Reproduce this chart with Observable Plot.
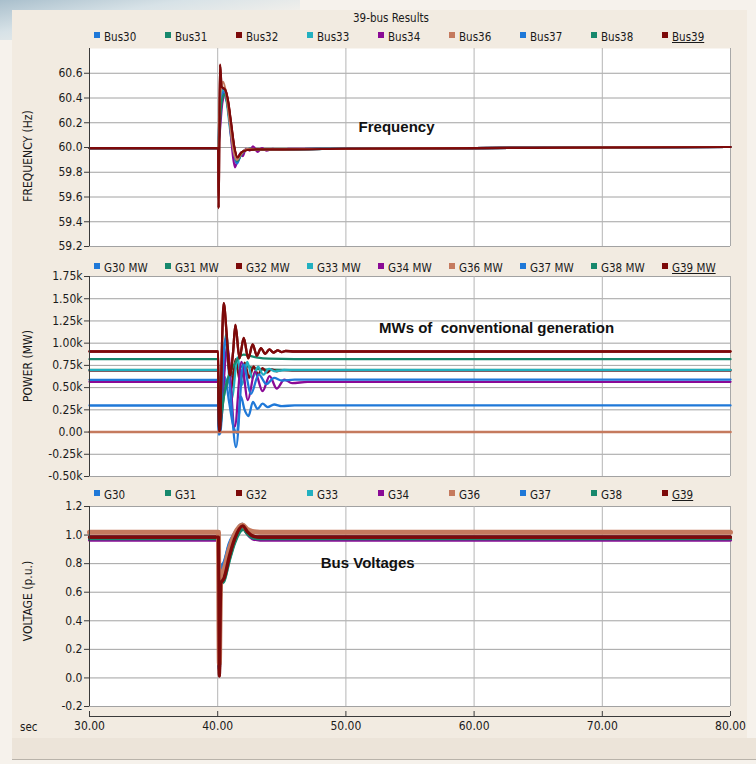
<!DOCTYPE html>
<html><head><meta charset="utf-8">
<script src="https://cdn.jsdelivr.net/npm/d3@7"></script>
<script src="https://cdn.jsdelivr.net/npm/@observablehq/plot@0.6"></script>
<style>
body{margin:0;width:756px;height:764px;overflow:hidden;background:#f6f2ec;font-family:"DejaVu Sans Condensed","DejaVu Sans",sans-serif;}
#root{position:relative;width:756px;height:764px;}
#swoosh{position:absolute;left:0;top:0;width:300px;height:40px;background:linear-gradient(170deg,#a9bfcc 0%,#d7e2e7 35%,rgba(246,242,236,0) 75%);}
#card{position:absolute;left:12px;top:10px;width:735px;height:750px;background:#f2ebe1;}
#foot{position:absolute;left:12px;top:738px;width:744px;height:21px;background:#ece4d9;border-bottom:1px solid #b9b3aa;}
.abs{position:absolute;}
.legend{position:absolute;left:0;width:756px;height:14px;font-size:11.5px;color:#1a1a1a;}
.item{position:absolute;top:0;white-space:nowrap;line-height:14px;}
.sw{display:inline-block;width:6px;height:6px;margin-right:4px;vertical-align:3px;}
.ylab{position:absolute;font-size:12px;color:#1a1a1a;white-space:nowrap;transform:translate(-50%,-50%) rotate(-90deg);}
</style></head><body><div id="root">
<div id="swoosh"></div><div id="card"></div><div id="foot"></div>
</div>
<script>
// ---------- labels / ticks ----------
const chartTitle = "39-bus Results";
const busNames = ["Bus30","Bus31","Bus32","Bus33","Bus34","Bus36","Bus37","Bus38","Bus39"];
const genMwNames = ["G30 MW","G31 MW","G32 MW","G33 MW","G34 MW","G36 MW","G37 MW","G38 MW","G39 MW"];
const genNames = ["G30","G31","G32","G33","G34","G36","G37","G38","G39"];
const seriesColors = ["#1f78d8","#17886c","#7d0a0a","#22b0c0","#8a0a96","#c57a5e","#1f78d8","#17886c","#7d0a0a"];
const timeTicks = [30,40,50,60,70,80];
const freqTicks = [59.2,59.4,59.6,59.8,60.0,60.2,60.4,60.6];
const powerTicks = [-500,-250,0,250,500,750,1000,1250,1500,1750];
const voltTicks = [-0.2,0,0.2,0.4,0.6,0.8,1.0,1.2];
const freqNote = [{t:53.95, v:60.165, text:"Frequency"}];
const powerNote = [{t:61.75, v:1165, text:"MWs of\u00a0 conventional generation"}];
const voltNote = [{t:51.7, v:0.806, text:"Bus Voltages"}];

// ---------- frequency (Hz) ----------
const fBus30 = [[30,59.995],[40.04,59.995],[40.12,60.2],[40.28,60.42],[40.47,60.48],[40.72,60.38],[41.0,60.14],[41.25,59.96],[41.48,59.88],[41.75,59.93],[42.05,59.975],[42.5,59.99],[43.0,59.982],[45,59.985],[50,59.99],[60,59.995],[70,60.0],[80,60.004]];
const fBus31 = [[30,59.995],[40.04,59.995],[40.14,60.16],[40.3,60.38],[40.52,60.44],[40.75,60.36],[41.02,60.14],[41.27,59.97],[41.5,59.89],[41.77,59.935],[42.08,59.975],[42.5,59.99],[43.0,59.983],[45,59.985],[50,59.99],[60,59.995],[70,60.0],[80,60.004]];
const fBus32 = [[30,59.995],[40.04,59.995],[40.14,60.18],[40.32,60.4],[40.55,60.47],[40.8,60.37],[41.05,60.17],[41.3,59.99],[41.55,59.91],[41.82,59.95],[42.15,59.98],[42.6,59.99],[43.0,59.984],[45,59.985],[50,59.99],[60,59.995],[70,60.0],[80,60.004]];
const fBus33 = [[30,59.995],[40.04,59.995],[40.12,60.22],[40.27,60.42],[40.45,60.46],[40.7,60.37],[40.98,60.13],[41.22,59.96],[41.45,59.88],[41.72,59.93],[42.02,59.97],[42.45,59.99],[43.0,59.982],[45,59.985],[50,59.99],[60,59.995],[70,60.0],[80,60.004]];
const fBus34 = [[30,59.995],[40.04,59.995],[40.16,60.12],[40.36,60.36],[40.62,60.44],[40.85,60.3],[41.05,60.08],[41.2,59.92],[41.35,59.84],[41.55,59.9],[41.75,59.95],[41.95,59.93],[42.2,59.99],[42.5,59.975],[42.75,60.01],[43.1,59.965],[43.45,59.995],[43.8,59.975],[44.3,59.99],[44.9,59.982],[45.5,59.99],[50,59.99],[60,59.995],[70,60.0],[80,60.004]];
const fBus36 = [[30,59.995],[40.04,59.995],[40.12,60.28],[40.26,60.48],[40.42,60.53],[40.68,60.42],[40.98,60.17],[41.24,59.97],[41.5,59.9],[41.78,59.94],[42.1,59.98],[42.5,59.99],[43.0,59.984],[45,59.985],[50,59.99],[60,59.995],[70,60.0],[80,60.004]];
const fBus37 = [[30,59.995],[40.04,59.995],[40.12,60.19],[40.29,60.41],[40.5,60.45],[40.74,60.37],[41.02,60.14],[41.27,59.96],[41.5,59.87],[41.77,59.93],[42.08,59.975],[42.5,59.99],[43.0,59.982],[45,59.985],[50,59.99],[60,59.995],[70,60.0],[80,60.004]];
const fBus38 = [[30,59.995],[40.04,59.995],[40.14,60.15],[40.31,60.37],[40.52,60.43],[40.76,60.35],[41.03,60.14],[41.28,59.97],[41.52,59.89],[41.8,59.94],[42.1,59.975],[42.5,59.99],[43.0,59.983],[45,59.985],[50,59.99],[60,59.995],[70,60.0],[80,60.004]];
const fBus39 = [[30,59.995],[40.04,59.995],[40.07,59.51],[40.12,59.98],[40.18,60.67],[40.31,60.49],[40.57,60.47],[40.8,60.38],[41.04,60.2],[41.3,60.0],[41.56,59.92],[41.85,59.96],[42.3,59.98],[43,59.985],[45,59.985],[50,59.99],[60,59.995],[70,60.0],[80,60.004]];

// ---------- power (MW) ----------
const pG30 = [[30,299],[40.04,299],[40.08,-30],[40.2,-10],[40.55,620],[40.9,330],[41.2,80],[41.5,-10],[41.8,400],[42.1,250],[42.4,180],[42.75,340],[43.1,260],[43.5,320],[43.9,280],[44.4,310],[45,292],[46,300],[80,300]];
const pG31 = [[30,700],[40.04,700],[40.08,10],[40.2,60],[40.5,420],[41.0,620],[41.6,730],[42.2,740],[43,712],[44,702],[46,700],[80,700]];
const pG32 = [[30,690],[40.04,690],[40.08,5],[40.2,100],[40.5,700],[40.75,900],[41.05,480],[41.4,820],[41.75,560],[42.1,780],[42.45,610],[42.8,740],[43.15,650],[43.5,720],[43.85,670],[44.2,705],[44.6,683],[45.0,697],[46,690],[80,690]];
const pG33 = [[30,696],[40.04,696],[40.08,0],[40.2,120],[40.65,1100],[41.1,380],[41.55,840],[41.9,530],[42.3,790],[42.7,606],[43.15,737],[43.55,645],[44.0,711],[44.5,682],[45.2,698],[46,696],[80,696]];
const pG34 = [[30,565],[40.04,565],[40.08,0],[40.25,150],[40.75,960],[41.33,60],[41.85,790],[42.35,360],[42.9,680],[43.5,460],[44.05,630],[44.6,490],[45.2,590],[45.8,550],[47,565],[80,565]];
const pG36 = [[30,0],[80,0]];
const pG37 = [[30,588],[40.04,588],[40.08,-20],[40.2,100],[40.6,1050],[41.0,420],[41.43,-170],[42.0,760],[42.6,430],[43.2,650],[43.8,540],[44.4,610],[45,580],[46,590],[80,590]];
const pG38 = [[30,820],[40.04,820],[40.08,0],[40.2,120],[40.6,500],[41.3,760],[42.0,870],[43,840],[44,825],[46,820],[80,820]];
const pG39 = [[30,906],[40.04,906],[40.08,10],[40.18,20],[40.32,900],[40.47,1449],[40.7,1100],[40.95,640],[41.2,900],[41.38,1205],[41.7,830],[42.03,1060],[42.38,830],[42.73,985],[43.05,860],[43.38,945],[43.7,880],[44.03,930],[44.35,895],[44.68,918],[45.0,900],[45.3,912],[46,906],[80,906]];

// ---------- voltage (p.u.) ----------
const vG30 = [[30,0.98],[40.06,0.98],[40.1,0.3],[40.13,0.06],[40.18,0.4],[40.23,0.75],[40.5,0.8],[40.9,0.93],[41.3,1.0],[41.9,1.075],[42.3,1.02],[42.7,0.99],[43.3,0.98],[80,0.98]];
const vG31 = [[30,0.975],[40.06,0.975],[40.1,0.3],[40.13,0.08],[40.18,0.35],[40.24,0.66],[40.5,0.69],[40.9,0.83],[41.3,0.95],[41.98,1.045],[42.35,1.01],[42.7,0.985],[43.3,0.975],[80,0.975]];
const vG32 = [[30,0.985],[40.06,0.985],[40.1,0.35],[40.13,0.05],[40.18,0.35],[40.24,0.7],[40.5,0.74],[40.9,0.88],[41.3,0.98],[41.95,1.06],[42.35,1.015],[42.7,0.99],[43.3,0.985],[80,0.985]];
const vG33 = [[30,0.97],[40.06,0.97],[40.1,0.3],[40.13,0.08],[40.18,0.36],[40.24,0.68],[40.5,0.71],[40.9,0.85],[41.3,0.96],[41.97,1.05],[42.35,1.01],[42.7,0.98],[43.3,0.97],[80,0.97]];
const vG34 = [[30,0.965],[40.06,0.965],[40.1,0.3],[40.13,0.09],[40.18,0.38],[40.24,0.72],[40.5,0.76],[40.9,0.9],[41.3,0.99],[41.92,1.065],[42.3,1.01],[42.7,0.975],[43.3,0.965],[80,0.965]];
const vG36 = [[30,1.02],[40.06,1.02],[40.1,0.35],[40.13,0.1],[40.18,0.4],[40.24,0.72],[40.5,0.76],[40.9,0.9],[41.3,1.0],[41.93,1.07],[42.3,1.04],[42.7,1.025],[43.3,1.02],[80,1.02]];
const vG37 = [[30,0.985],[40.06,0.985],[40.1,0.3],[40.13,0.06],[40.18,0.42],[40.23,0.77],[40.5,0.81],[40.9,0.94],[41.3,1.01],[41.9,1.075],[42.3,1.02],[42.7,0.99],[43.3,0.985],[80,0.985]];
const vG38 = [[30,0.975],[40.06,0.975],[40.1,0.3],[40.13,0.08],[40.18,0.34],[40.24,0.65],[40.5,0.68],[40.9,0.82],[41.3,0.94],[42.0,1.04],[42.35,1.005],[42.7,0.982],[43.3,0.975],[80,0.975]];
const vG39 = [[30,0.985],[40.06,0.985],[40.1,0.4],[40.13,0.014],[40.18,0.3],[40.24,0.66],[40.5,0.7],[40.9,0.85],[41.3,0.97],[41.95,1.065],[42.35,1.02],[42.7,0.995],[43.3,0.985],[80,0.985]];

// ---------- build ----------
const FONT = '"DejaVu Sans Condensed","DejaVu Sans",sans-serif';
const root = document.getElementById("root");
const rowsOf = (names, arrays) => names.flatMap((n, i) => arrays[i].map(([t, v]) => ({series: n, t, v})));
const freqRows = rowsOf(busNames, [fBus30,fBus31,fBus32,fBus33,fBus34,fBus36,fBus37,fBus38,fBus39]);
const powerRows = rowsOf(genMwNames, [pG30,pG31,pG32,pG33,pG34,pG36,pG37,pG38,pG39]);
const voltRows = rowsOf(genNames, [vG30,vG31,vG32,vG33,vG34,vG36,vG37,vG38,vG39]);

function addEl(html, cls, style) {
  const d = document.createElement("div");
  d.className = cls; d.innerHTML = html; Object.assign(d.style, style); root.appendChild(d); return d;
}
function legend(names, top) {
  const l = addEl("", "legend", {top: top + "px"});
  names.forEach((n, i) => {
    const s = document.createElement("span");
    s.className = "item"; s.style.left = (94 + i * 71) + "px";
    const last = i === names.length - 1;
    s.innerHTML = `<span class="sw" style="background:${seriesColors[i]}"></span><span style="${last ? "text-decoration:underline" : ""}">${n}</span>`;
    l.appendChild(s);
  });
}
function panel(cfg) {
  const svg = Plot.plot({
    width: 756, height: cfg.height, marginLeft: 89, marginRight: 26, marginTop: 4, marginBottom: 4,
    style: {background: "transparent", fontFamily: FONT, fontSize: "12px", color: "#222", overflow: "visible"},
    x: {domain: [30, 80], axis: null},
    y: {domain: cfg.yDomain, axis: null},
    color: {domain: cfg.names, range: seriesColors},
    marks: [
      Plot.frame({fill: "white", stroke: "none"}),
      Plot.gridY(cfg.yTicks, {stroke: "#a2a2a2", strokeOpacity: 1}),
      Plot.gridX([40, 50, 60, 70], {stroke: "#b5b5b5", strokeOpacity: 1}),
      Plot.ruleX([80], {stroke: "#a8a8a8"}),
      Plot.line(cfg.rows.filter(d => d.series !== cfg.names[5]), {x: "t", y: "v", z: "series", stroke: "series", curve: "monotone-x", strokeWidth: cfg.sw}),
      Plot.line(cfg.rows.filter(d => d.series === cfg.names[5]), {x: "t", y: "v", z: "series", stroke: "series", curve: "monotone-x", strokeWidth: cfg.sw36}),
      Plot.line(cfg.rows.filter(d => d.series === cfg.names[8]), {x: "t", y: "v", z: "series", stroke: "series", curve: "monotone-x", strokeWidth: cfg.sw}),
      Plot.ruleX([30], {stroke: "#3a3a3a"}),
      Plot.axisY(cfg.yTicks, {tickFormat: cfg.fmt, tickSize: 5, tickPadding: 2, stroke: "#3a3a3a", fill: "#1a1a1a", label: null}),
      Plot.text(cfg.note, {x: "t", y: "v", text: "text", fontWeight: "bold", fontSize: 15, fontFamily: '"Liberation Sans",Arial,sans-serif', fill: "#111"})
    ]
  });
  svg.style.position = "absolute"; svg.style.left = "0px"; svg.style.top = cfg.top + "px";
  root.appendChild(svg);
}

addEl(chartTitle, "abs", {left: "391px", top: "11px", transform: "translateX(-50%)", fontSize: "11.5px", color: "#1a1a1a", whiteSpace: "nowrap"});
legend(busNames, 30);
legend(genMwNames, 261);
legend(genNames, 488);

panel({top: 44, height: 206, yDomain: [59.2, 60.8], yTicks: freqTicks, fmt: d => d.toFixed(1), rows: freqRows, names: busNames, note: freqNote, sw: 2.2, sw36: 2.2});
panel({top: 272, height: 208, yDomain: [-500, 1750], yTicks: powerTicks, fmt: d => d === 0 ? "0.00" : (d / 1000).toFixed(2) + "k", rows: powerRows, names: genMwNames, note: powerNote, sw: 2.3, sw36: 2.6});
panel({top: 502, height: 208, yDomain: [-0.2, 1.2], yTicks: voltTicks, fmt: d => d.toFixed(1), rows: voltRows, names: genNames, note: voltNote, sw: 3.2, sw36: 5});

addEl("FREQUENCY (Hz)", "ylab", {left: "28px", top: "156px"});
addEl("POWER (MW)", "ylab", {left: "28px", top: "366px"});
addEl("VOLTAGE (p.u.)", "ylab", {left: "28px", top: "601px"});

// x axis
const xa = Plot.plot({
  width: 756, height: 36, marginLeft: 89, marginRight: 26, marginTop: 5, marginBottom: 26,
  style: {background: "transparent", fontFamily: FONT, fontSize: "12px", color: "#1a1a1a", overflow: "visible"},
  x: {domain: [30, 80], axis: null},
  y: {domain: [0, 1], axis: null},
  marks: [
    Plot.tickX(timeTicks, {x: d => d, stroke: "#3a3a3a"}),
    Plot.ruleY([0], {stroke: "#3a3a3a"}),
    Plot.axisX(timeTicks, {tickSize: 0, tickPadding: 5, tickFormat: d => d.toFixed(2), label: null, fill: "#1a1a1a"})
  ]
});
xa.style.position = "absolute"; xa.style.left = "0px"; xa.style.top = "706px";
root.appendChild(xa);
addEl("sec", "abs", {left: "20px", top: "720px", fontSize: "11.5px", color: "#1a1a1a"});
</script></body></html>
